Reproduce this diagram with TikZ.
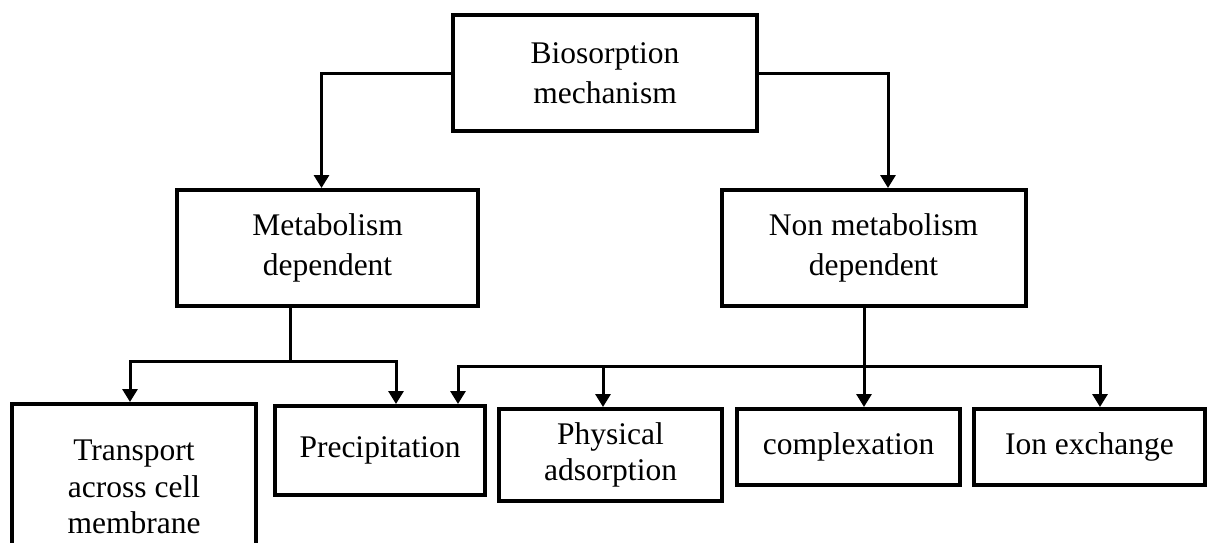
\documentclass[tikz,border=0pt]{standalone}
\usepackage{fontspec}
\setmainfont{Liberation Serif}
\usetikzlibrary{arrows.meta}

\begin{document}
\begin{tikzpicture}[x=1pt,y=-1pt,
        box/.style={draw=black,line width=4pt,align=center,inner sep=0pt,font=\fontsize{31.5}{36.5}\selectfont},
        widebox/.style={box,font=\fontsize{31.5}{40.5}\selectfont},
        conn/.style={line width=3pt,-{Triangle[length=13pt,width=15pt]}},
        link/.style={line width=3pt}]
        \useasboundingbox (0,0) rectangle (1214,542);
        \clip (0,0) rectangle (1214,542);

        \node[widebox,minimum width=304pt,minimum height=116pt] (bio) at (605, 73)     {Biosorption\\mechanism};
        \node[widebox,minimum width=301pt,minimum height=116pt] (meta) at (327.5, 248)     {Metabolism\\dependent};
        \node[widebox,minimum width=304pt,minimum height=116pt] (nonmeta) at (873.5, 248)     {Non metabolism\\dependent};
        \node[box,minimum width=244pt,minimum height=166pt] (transport) at (134, 487)     {Transport\\across cell\\membrane};
        \node[box,minimum width=210pt,minimum height=89pt] (precip) at (380, 450.5)     {Precipitation};
        \node[box,minimum width=223pt,minimum height=92pt] (phys) at (610.5, 455)     {Physical\\adsorption};
        \node[box,minimum width=223pt,minimum height=76pt] (complex) at (848.5, 447)     {complexation};
        \node[box,minimum width=231pt,minimum height=76pt] (ion) at (1089.5, 447)     {Ion exchange};

        \coordinate (mj) at (290, 361);
        \coordinate (nj) at (864, 366);

	\draw[conn] (bio.west) -| ([xshift=-6pt]meta.north);
	\draw[conn] (bio.east) -| ([xshift=14.5pt]nonmeta.north);
	\draw[link] (meta.south -| mj) -- (mj);
	\draw[conn] (mj) -| ([xshift=-4pt]transport.north);
	\draw[conn] (mj) -| ([xshift=16pt]precip.north);
	\draw[conn] (nonmeta.south -| nj) -- (complex.north -| nj);
	\draw[conn] (nj) -| ([xshift=78pt]precip.north);
	\draw[conn] (nj) -| ([xshift=-7.5pt]phys.north);
	\draw[conn] (nj) -| ([xshift=10.5pt]ion.north);
\end{tikzpicture}
\end{document}
